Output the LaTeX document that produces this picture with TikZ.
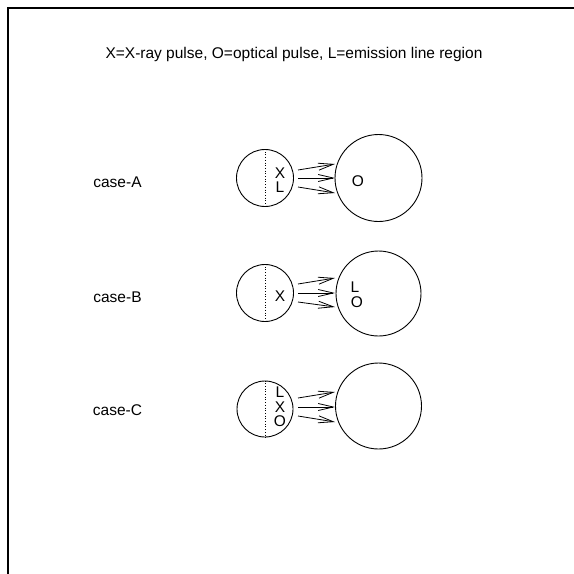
\documentclass[tikz,border=0pt]{standalone}
\usepackage{fontspec}
\setmainfont{Liberation Sans}
\usetikzlibrary{arrows.meta}
\begin{document}
\begin{tikzpicture}[x=1pt,y=-1pt,
  txt/.style={inner sep=0pt,font=\fontsize{15.5}{17}\selectfont,text height=11pt,text depth=0pt},
  circ/.style={draw,circle,line width=0.9pt,inner sep=0pt},
  ray/.style={line width=0.8pt,-{Straight Barb[length=15pt,width=7pt,line width=0.8pt]}},
  dots/.style={dotted,line width=0.7pt}]
\useasboundingbox (0,0) rectangle (574,574);
\draw[line width=1.3pt] (8,574) -- (8,8) -- (574,8);
\node[txt] (title) at (294,53) {X=X-ray pulse, O=optical pulse, L=emission line region};
% case A
\node[txt] (caseA) at (117.5,182) {case-A};
\node[circ,minimum size=57pt] (sA) at (265,178) {};
\node[circ,minimum size=87pt] (bA) at (378.5,178) {};
\draw[dots] (sA.north) -- (sA.south);
\node[txt] (xA) at (280,173) {X};
\node[txt] (lA) at (280,187) {L};
\node[txt] (oA) at (358,181) {O};
\coordinate (a1) at (298,170); \coordinate (a1e) at (335,164);
\coordinate (a2) at (298,178); \coordinate (a2e) at (335,178);
\coordinate (a3) at (298,187); \coordinate (a3e) at (335,193);
\draw[ray] (a1) -- (a1e);
\draw[ray] (a2) -- (a2e);
\draw[ray] (a3) -- (a3e);
% case B
\node[txt] (caseB) at (117.5,297) {case-B};
\node[circ,minimum size=57pt] (sB) at (265,293) {};
\node[circ,minimum size=85pt] (bB) at (378.5,293.5) {};
\draw[dots] (sB.north) -- (sB.south);
\node[txt] (xB) at (280,296) {X};
\node[txt] (lB) at (355,287) {L};
\node[txt] (oB) at (357,302) {O};
\coordinate (b1) at (298,284); \coordinate (b1e) at (335,278);
\coordinate (b2) at (298,293); \coordinate (b2e) at (335,293);
\coordinate (b3) at (298,302); \coordinate (b3e) at (335,307);
\draw[ray] (b1) -- (b1e);
\draw[ray] (b2) -- (b2e);
\draw[ray] (b3) -- (b3e);
% case C
\node[txt] (caseC) at (117.5,410) {case-C};
\node[circ,minimum size=56pt] (sC) at (265,409) {};
\node[circ,minimum size=86pt] (bC) at (378.5,406) {};
\draw[dots] (sC.north) -- (sC.south);
\node[txt] (lC) at (280,392) {L};
\node[txt] (xC) at (280,407) {X};
\node[txt] (oC) at (280,421) {O};
\coordinate (c1) at (298,398); \coordinate (c1e) at (335,392);
\coordinate (c2) at (298,407); \coordinate (c2e) at (335,407);
\coordinate (c3) at (298,416); \coordinate (c3e) at (335,422);
\draw[ray] (c1) -- (c1e);
\draw[ray] (c2) -- (c2e);
\draw[ray] (c3) -- (c3e);
\end{tikzpicture}
\end{document}
